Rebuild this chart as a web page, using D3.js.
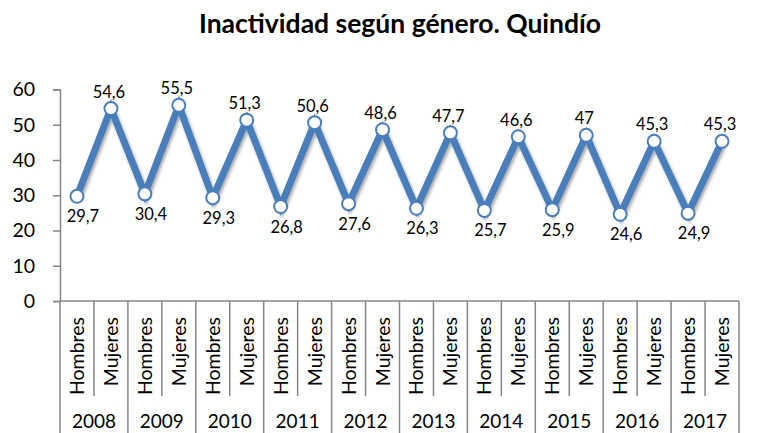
<!DOCTYPE html>
<html><head><meta charset="utf-8">
<script src="https://cdn.jsdelivr.net/npm/d3@7/dist/d3.min.js"></script>
<style>body{margin:0;background:#fff}svg{display:block}</style>
</head><body>
<script>
const title = "Inactividad según género. Quindío";
const years = ["2008","2009","2010","2011","2012","2013","2014","2015","2016","2017"];
const genders = ["Hombres","Mujeres"];
const hombres = [29.7,30.4,29.3,26.8,27.6,26.3,25.7,25.9,24.6,24.9];
const mujeres = [54.6,55.5,51.3,50.6,48.6,47.7,46.6,47,45.3,45.3];
const yTicks = [0,10,20,30,40,50,60];

const W=762,H=433;
const font="Lato, 'Open Sans', sans-serif";
const blue="#4a7ebb", axisCol="#868686";
const svg=d3.select("body").append("svg").attr("width",W).attr("height",H);

const data=[];
years.forEach((y,i)=>{
  data.push({year:y,g:"Hombres",v:hombres[i],key:y+"-H"});
  data.push({year:y,g:"Mujeres",v:mujeres[i],key:y+"-M"});
});

const x=d3.scaleBand().domain(data.map(d=>d.key)).range([60,739]);
const xYear=d3.scaleBand().domain(years).range([60,739]);
const y=d3.scaleLinear().domain([0,60]).range([301,89.5]);

const defs=svg.append("defs");
const f=defs.append("filter").attr("id","sh").attr("x","-10%").attr("y","-10%").attr("width","120%").attr("height","130%");
f.append("feDropShadow").attr("dx",1.5).attr("dy",2.5).attr("stdDeviation",1.8).attr("flood-color","#000").attr("flood-opacity",0.35);

svg.append("text").attr("x",400).attr("y",33).attr("text-anchor","middle")
  .attr("font-family",font).attr("font-weight","bold").attr("font-size",26.5).attr("fill","#000").text(title);

const ya=svg.append("g").attr("transform","translate(60,0)")
  .call(d3.axisLeft(y).tickValues(yTicks).tickSize(7).tickPadding(18).tickFormat(d3.format("d")));
ya.select(".domain").attr("stroke",axisCol).attr("stroke-width",1.5);
ya.selectAll(".tick line").attr("stroke",axisCol).attr("stroke-width",1.5);
ya.selectAll(".tick text").attr("font-family",font).attr("font-size",19.5).attr("fill","#000");

svg.append("line").attr("x1",60).attr("x2",739).attr("y1",y(0)).attr("y2",y(0)).attr("stroke",axisCol).attr("stroke-width",1.5);
const catEdges=x.domain().map(k=>x(k)).concat([x.range()[1]]);
catEdges.forEach((cx,i)=>{
  const isYear = i%2===0;
  svg.append("line").attr("x1",cx).attr("x2",cx).attr("y1",y(0)).attr("y2",isYear?H:396)
    .attr("stroke",axisCol).attr("stroke-width",1.5);
});
svg.append("g").selectAll("text").data(data).join("text")
  .attr("transform",d=>`translate(${x(d.key)+x.bandwidth()/2+7},317) rotate(-90)`)
  .attr("text-anchor","end").attr("font-family",font).attr("font-size",19.5).attr("fill","#000")
  .text(d=>d.g);
svg.append("g").selectAll("text").data(years).join("text")
  .attr("x",d=>xYear(d)+xYear.bandwidth()/2).attr("y",428).attr("text-anchor","middle")
  .attr("font-family",font).attr("font-size",19).attr("fill","#000").text(d=>d);

const line=d3.line().x(d=>x(d.key)+x.bandwidth()/2).y(d=>y(d.v));
svg.append("path").datum(data).attr("d",line).attr("fill","none").attr("stroke",blue)
  .attr("stroke-width",7).attr("stroke-linejoin","miter").attr("filter","url(#sh)");
svg.append("g").selectAll("circle").data(data).join("circle")
  .attr("cx",d=>x(d.key)+x.bandwidth()/2).attr("cy",d=>y(d.v)).attr("r",6.5)
  .attr("fill","#fff").attr("stroke",blue).attr("stroke-width",2);

const fmt=v=>String(v).replace(".",",");
svg.append("g").selectAll("text").data(data).join("text")
  .attr("x",d=>x(d.key)+x.bandwidth()/2+(d.g==="Hombres"?6:-2))
  .attr("y",d=>y(d.v)+(d.g==="Hombres"?26:-11))
  .attr("text-anchor","middle").attr("font-family",font).attr("font-size",16.5).attr("fill","#000")
  .text(d=>fmt(d.v));
</script>
</body></html>
